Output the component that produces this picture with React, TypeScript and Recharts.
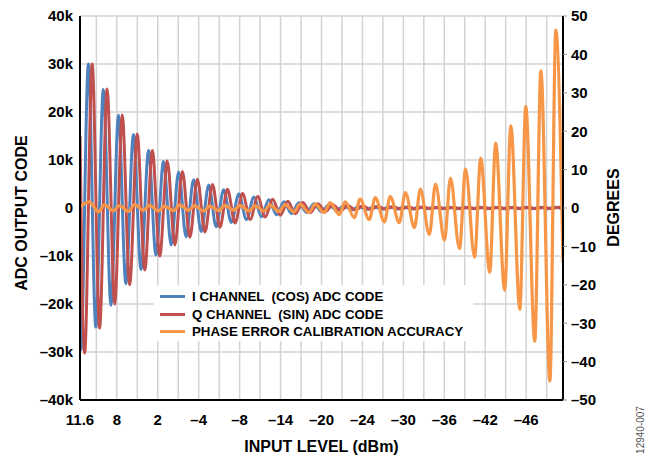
import React from "react";
import { LineChart, Line, XAxis, YAxis, CartesianGrid } from "recharts";

// x axis is in sample units, 0..236; gridlines every 10 starting at 8
const inputLevels = ["11.6", "8", "2", "\u20134", "\u20138", "\u201314", "\u201320", "\u201324", "\u201330", "\u201336", "\u201342", "\u201346"];
const levelTicks = [0, 18, 38, 58, 78, 98, 118, 138, 158, 178, 198, 218];
const gridTicks = [8, 18, 28, 38, 48, 58, 68, 78, 88, 98, 108, 118, 128, 138, 148, 158, 168, 178, 188, 198, 208, 218, 228];
const adcTicks = [-40000, -30000, -20000, -10000, 0, 10000, 20000, 30000, 40000];
const degTicks = [-50, -40, -30, -20, -10, 0, 10, 20, 30, 40, 50];

// position of each I (cos) maximum
const cyclePeaks = [
  4.1, 11.4, 18.8, 26.1, 33.5, 40.8, 48.2, 55.5, 62.9, 70.2, 77.6, 85.0, 92.3, 99.7, 107.0, 114.4,
  121.7, 129.1, 136.4, 143.8, 151.1, 158.5, 165.8, 173.2, 180.5, 187.9, 195.3, 202.6, 210.0, 217.3, 224.7, 232.0,
];
const period = 7.35;

// I channel: maxima, and the minimum half a cycle before each maximum (plus one after the last)
const iStart = -24000;
const iPeaks = [
  30000, 24700, 19300, 15300, 12000, 9700, 7500, 5900, 4800, 3800, 2900, 2300, 1700, 1300, 1100, 900,
  700, 500, 350, 300, 250, 200, 200, 150, 150, 150, 150, 150, 150, 150, 150, 150,
];
const iTroughs = [
  -29500, -24800, -20300, -15800, -12800, -9800, -7700, -6000, -4900, -3900, -3000, -2400, -1800, -1400, -1150, -950,
  -750, -550, -400, -300, -250, -200, -200, -150, -150, -150, -150, -150, -150, -150, -150, -150, -150,
];

// Q channel lags I by a quarter cycle
const qStart = 15000;
const qPeaks = [
  30000, 24800, 19400, 15400, 12000, 9800, 7600, 6000, 4900, 3900, 3000, 2400, 1800, 1400, 1150, 900,
  700, 500, 400, 300, 250, 200, 200, 150, 150, 150, 150, 150, 150, 150, 150, 150,
];
const qTroughs = [
  -30200, -25000, -20000, -16000, -12900, -10000, -7700, -6100, -5000, -4000, -3100, -2400, -1900, -1500, -1200, -950,
  -750, -550, -400, -300, -250, -200, -200, -150, -150, -150, -150, -150, -150, -150, -150, -150,
];

// phase error (degrees): maxima near each cycle, minima later in the cycle
const phaseStart = 0.3;
const phaseEnd = -14;
const phasePeaks = [
  1.6, 0.8, 0.6, 0.9, 0.7, 0.5, 0.8, 0.6, 0.5, 0.7, 0.7, 0.6, 0.8, 0.9, 1.0, 1.0,
  1.4, 1.6, 2.3, 2.7, 3.0, 4.0, 4.9, 6.2, 7.8, 10.1, 13.0, 16.9, 21.4, 26.4, 35.7, 46.3,
];
const phaseTroughs = [
  -1.0, -0.7, -0.9, -0.6, -0.8, -0.7, -0.6, -0.8, -0.7, -0.6, -0.8, -0.8, -0.9, -1.0, -1.2, -1.2,
  -1.7, -2.5, -3.0, -3.6, -3.8, -5.1, -6.9, -8.4, -10.6, -12.8, -16.7, -21.4, -26.4, -34.7, -45.1,
];

const X_MAX = 236;

const iData = [{ x: 0, v: iStart }];
const qData = [{ x: 0, v: qStart }];
const phaseData = [{ x: 0, v: phaseStart }];
cyclePeaks.forEach((c, k) => {
  iData.push({ x: c - period / 2, v: iTroughs[k] }, { x: c, v: iPeaks[k] });
  qData.push({ x: c - period / 4, v: qTroughs[k] }, { x: c + period / 4, v: qPeaks[k] });
  phaseData.push({ x: c + 0.5, v: phasePeaks[k] });
  if (k < phaseTroughs.length) phaseData.push({ x: c + 4.9, v: phaseTroughs[k] });
});
iData.push({ x: cyclePeaks[cyclePeaks.length - 1] + period / 2, v: iTroughs[cyclePeaks.length] });
qData.push({ x: X_MAX, v: 0 });
phaseData.push({ x: X_MAX, v: phaseEnd });

const xTicks = [0, ...gridTicks];

const FONT = '"Liberation Sans", Arial, Helvetica, sans-serif';
const BLUE = "#4F81BD";
const RED = "#C0504D";
const ORANGE = "#F79646";

const tickStyle = { fill: "#000", fontSize: 15, fontWeight: 700, fontFamily: FONT };

const fmtK = (v: number) => (v === 0 ? "0" : (v < 0 ? "\u2013" : "") + Math.abs(v / 1000) + "k");
const fmtDeg = (v: number) => (v < 0 ? "\u2013" + Math.abs(v) : String(v));
const fmtLevel = (v: number) => {
  const i = levelTicks.indexOf(v);
  return i >= 0 ? inputLevels[i] : "";
};

const legendItems = [
  { label: "I CHANNEL  (COS) ADC CODE", color: BLUE },
  { label: "Q CHANNEL  (SIN) ADC CODE", color: RED },
  { label: "PHASE ERROR CALIBRATION ACCURACY", color: ORANGE },
];

const ChartLegend = () => (
  <div
    style={{
      position: "absolute",
      left: 154,
      top: 285,
      width: 319,
      height: 56,
      background: "#fff",
      fontFamily: FONT,
      fontWeight: 700,
      fontSize: 13.3,
    }}
  >
    {legendItems.map((it, i) => (
      <div
        key={it.label}
        style={{ position: "absolute", left: 6, top: 3 + i * 17.5, height: 17, display: "flex", alignItems: "center", whiteSpace: "pre" }}
      >
        <span style={{ display: "inline-block", width: 25, height: 3, background: it.color, marginRight: 7 }} />
        <span>{it.label}</span>
      </div>
    ))}
  </div>
);

const VTitle = ({ text, cx, cy }: { text: string; cx: number; cy: number }) => (
  <text
    x={cx}
    y={cy}
    transform={`rotate(-90, ${cx}, ${cy})`}
    textAnchor="middle"
    dominantBaseline="central"
    fill="#000"
    fontSize={16}
    fontWeight={700}
    fontFamily={FONT}
  >
    {text}
  </text>
);

export default function App() {
  return (
    <div style={{ position: "absolute", left: 0, top: 0, width: 649, height: 456, background: "#fff" }}>
      <LineChart width={649} height={456} margin={{ top: 16, right: 0, bottom: 0, left: 0 }}>
        <CartesianGrid yAxisId="adc" stroke="#d3d3d3" strokeWidth={1.5} />
        <XAxis
          dataKey="x"
          type="number"
          domain={[0, X_MAX]}
          allowDataOverflow
          ticks={xTicks}
          interval={0}
          tickFormatter={fmtLevel}
          tickLine={false}
          tickSize={0}
          tickMargin={14}
          height={56}
          axisLine={{ stroke: "#000", strokeWidth: 2 }}
          tick={tickStyle}
          label={() => (
            <text x={321.5} y={452} textAnchor="middle" fill="#000" fontSize={16} fontWeight={700} fontFamily={FONT}>
              INPUT LEVEL (dBm)
            </text>
          )}
        />
        <XAxis
          xAxisId="top"
          orientation="top"
          dataKey="x"
          type="number"
          domain={[0, X_MAX]}
          allowDataOverflow
          height={0}
          tick={false}
          tickLine={false}
          axisLine={{ stroke: "#000", strokeWidth: 2 }}
        />
        <YAxis
          yAxisId="adc"
          orientation="left"
          width={80}
          domain={[-40000, 40000]}
          allowDataOverflow
          ticks={adcTicks}
          interval={0}
          tickFormatter={fmtK}
          tickLine={false}
          tickSize={0}
          tickMargin={7}
          axisLine={{ stroke: "#000", strokeWidth: 2 }}
          tick={tickStyle}
          label={() => <VTitle text="ADC OUTPUT CODE" cx={21.5} cy={213} />}
        />
        <YAxis
          yAxisId="deg"
          orientation="right"
          width={86}
          domain={[-50, 50]}
          allowDataOverflow
          ticks={degTicks}
          interval={0}
          tickFormatter={fmtDeg}
          tickLine={{ stroke: "#999" }}
          tickSize={4}
          tickMargin={4}
          axisLine={{ stroke: "#000", strokeWidth: 2 }}
          tick={{ ...tickStyle, textAnchor: "start" }}
          label={() => <VTitle text="DEGREES" cx={613.5} cy={207.5} />}
        />
        <Line yAxisId="adc" data={iData} dataKey="v" type="monotone" stroke={BLUE} strokeWidth={3} dot={false} activeDot={false} isAnimationActive={false} />
        <Line yAxisId="adc" data={qData} dataKey="v" type="monotone" stroke={RED} strokeWidth={3} dot={false} activeDot={false} isAnimationActive={false} />
        <Line yAxisId="deg" data={phaseData} dataKey="v" type="monotone" stroke={ORANGE} strokeWidth={3.2} dot={false} activeDot={false} isAnimationActive={false} />
      </LineChart>
      <ChartLegend />
      <div
        style={{
          position: "absolute",
          left: 611,
          top: 424,
          width: 60,
          height: 12,
          lineHeight: "12px",
          textAlign: "center",
          transform: "rotate(-90deg)",
          fontFamily: FONT,
          fontSize: 10,
          color: "#555",
        }}
      >
        12940-007
      </div>
    </div>
  );
}
